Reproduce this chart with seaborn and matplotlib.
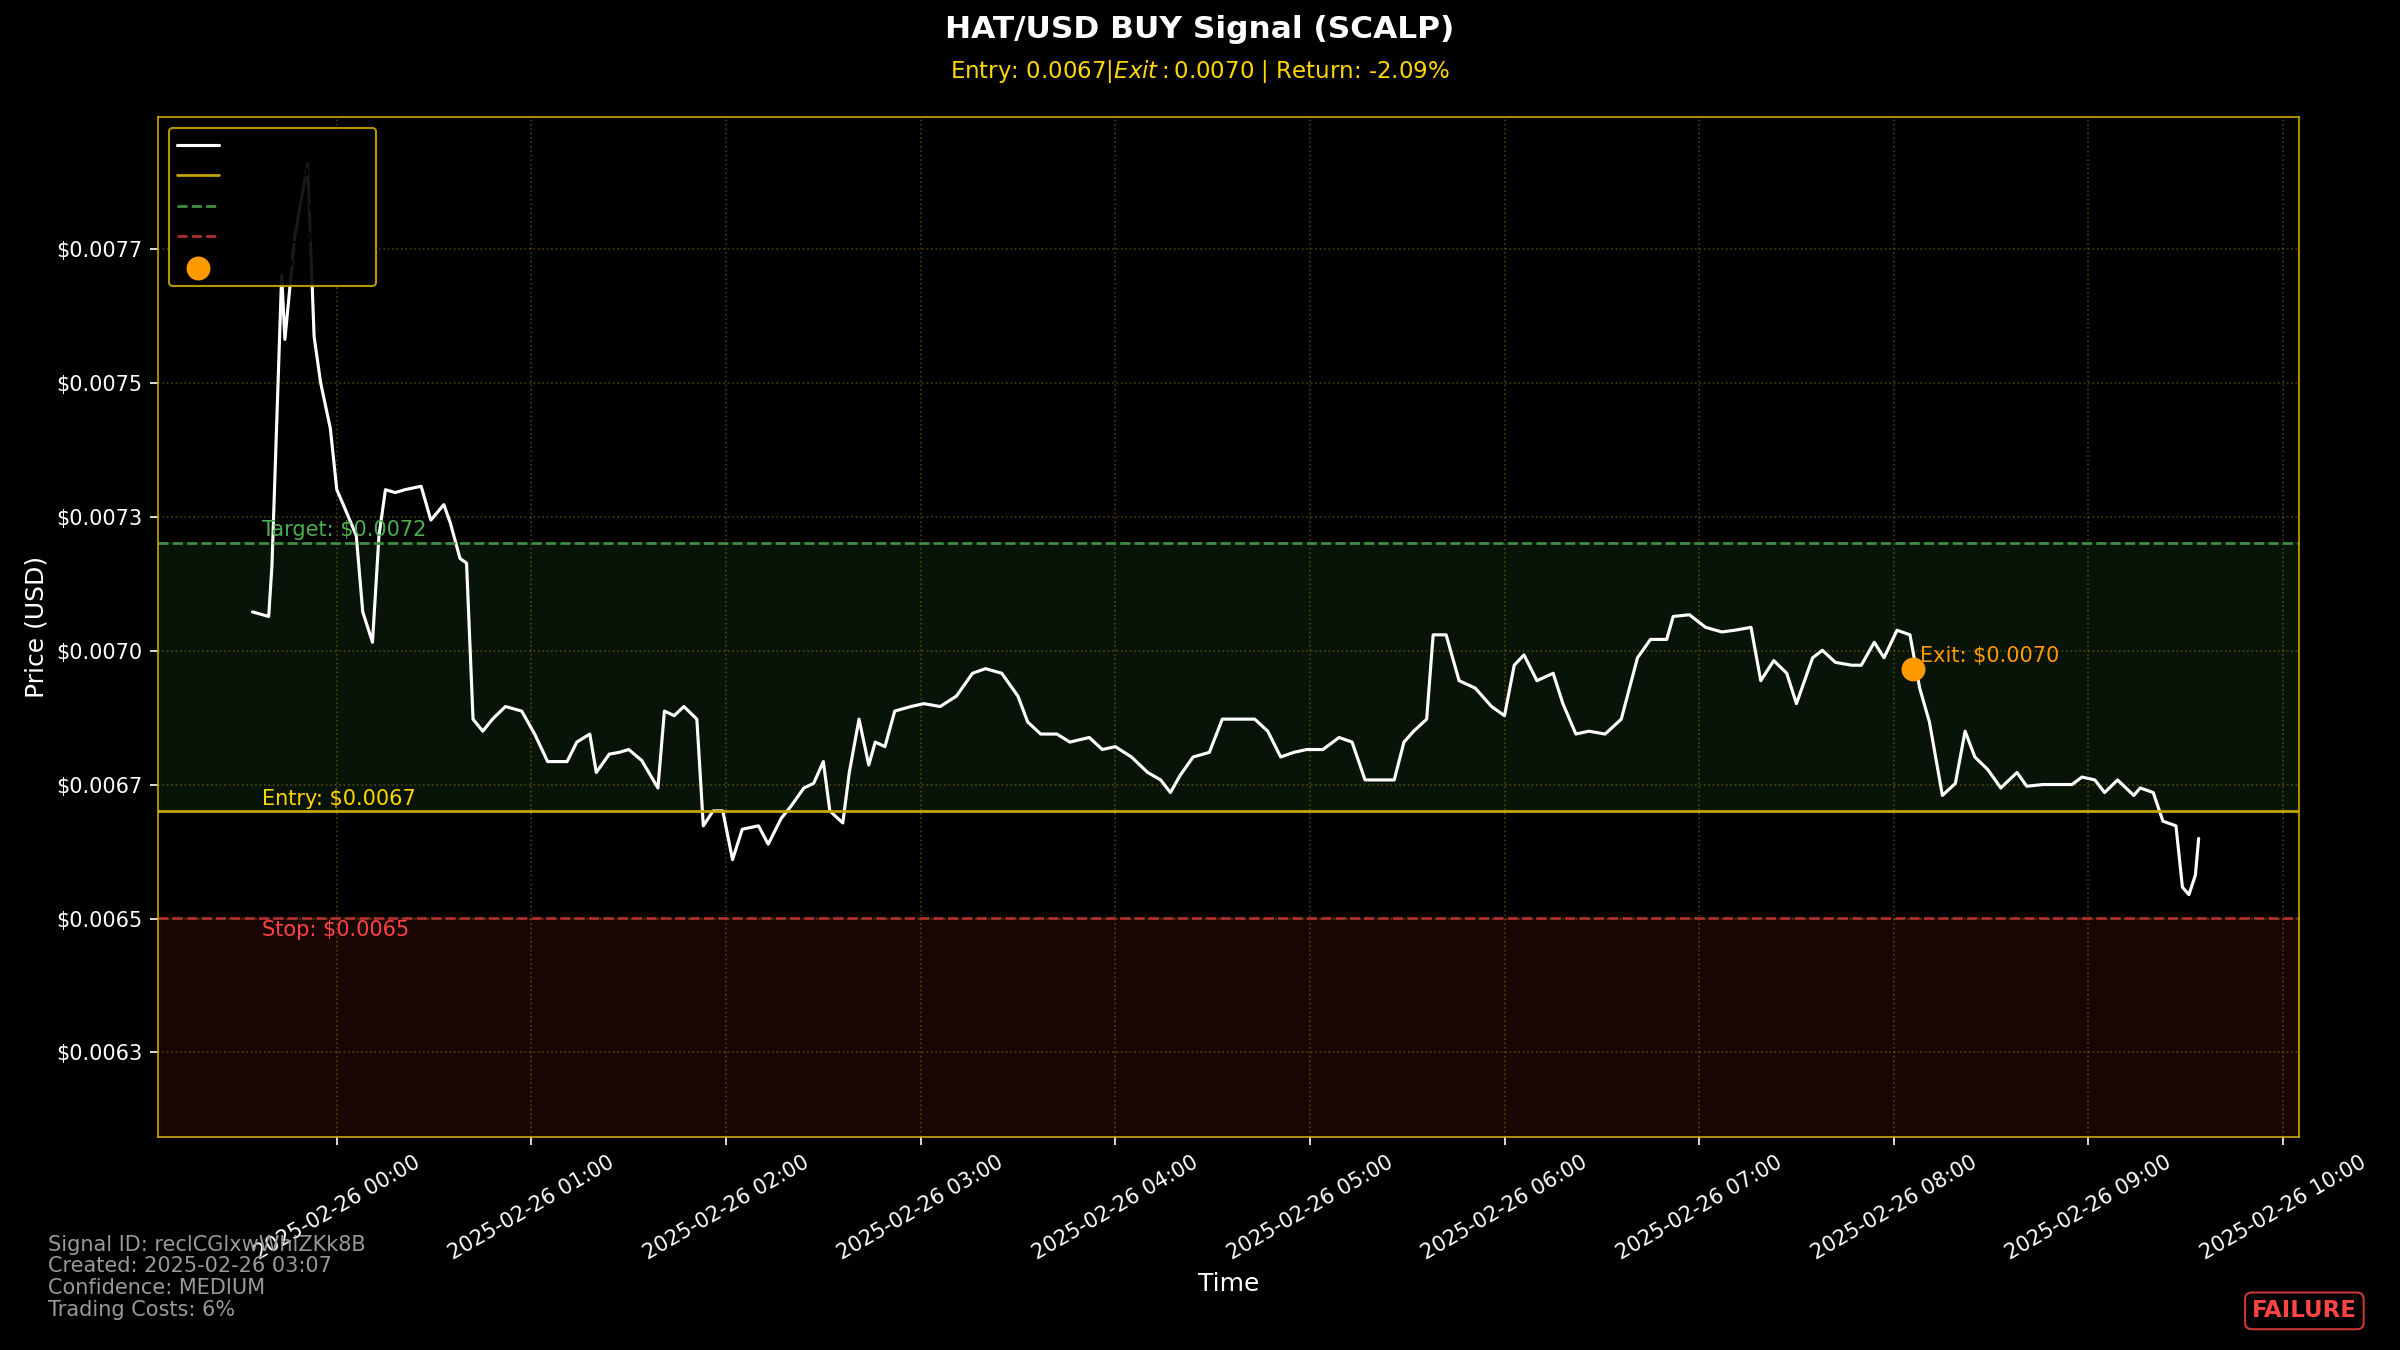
import matplotlib
matplotlib.use("Agg")
import matplotlib.pyplot as plt
import matplotlib.dates as mdates
import seaborn as sns
import pandas as pd
import numpy as np

# minutes from 2025-02-26 00:00
minutes = [-26, -21, -20, -17, -16, -13, -9, -7, -5, -2, 0, 2, 6, 8, 11, 13, 15, 18, 21, 26,
           29, 33, 35, 38, 40, 42, 45, 48, 52, 57, 61, 65, 71, 74, 78, 80, 84, 87, 90, 94,
           99, 101, 104, 107, 111, 113, 116, 119, 122, 125, 130, 133, 137, 140, 144, 147, 150, 152, 156, 158,
           161, 164, 166, 169, 172, 177, 181, 186, 191, 196, 200, 205, 210, 213, 217, 222, 226, 232, 236, 240,
           245, 250, 254, 257, 260, 264, 269, 273, 278, 283, 287, 291, 295, 299, 304, 309, 313, 317, 320, 326,
           329, 332, 336, 338, 342, 346, 351, 356, 360, 363, 366, 370, 375, 378, 382, 386, 391, 396, 401, 405,
           410, 412, 417, 422, 427, 431, 436, 439, 443, 447, 450, 455, 458, 462, 467, 470, 474, 477, 481, 485,
           488, 491, 495, 499, 502, 505, 509, 513, 518, 521, 526, 530, 535, 538, 542, 545, 549, 554, 556, 560,
           563, 567, 569, 571, 573, 574]
prices = [0.007068, 0.007060, 0.007148, 0.007655, 0.007543, 0.007721, 0.007849, 0.007548, 0.007468, 0.007388,
          0.007281, 0.007255, 0.007201, 0.007068, 0.007015, 0.007201, 0.007281, 0.007276, 0.007281, 0.007287,
          0.007228, 0.007255, 0.007223, 0.007161, 0.007153, 0.006881, 0.006860, 0.006881, 0.006903, 0.006895,
          0.006855, 0.006807, 0.006807, 0.006841, 0.006855, 0.006788, 0.006820, 0.006823, 0.006828, 0.006809,
          0.006761, 0.006895, 0.006887, 0.006903, 0.006881, 0.006695, 0.006721, 0.006721, 0.006636, 0.006689,
          0.006695, 0.006663, 0.006708, 0.006729, 0.006761, 0.006769, 0.006807, 0.006721, 0.006700, 0.006788,
          0.006881, 0.006801, 0.006841, 0.006833, 0.006895, 0.006903, 0.006908, 0.006903, 0.006921, 0.006961,
          0.006969, 0.006961, 0.006921, 0.006876, 0.006855, 0.006855, 0.006841, 0.006849, 0.006828, 0.006833,
          0.006815, 0.006788, 0.006775, 0.006753, 0.006783, 0.006815, 0.006823, 0.006881, 0.006881, 0.006881,
          0.006860, 0.006815, 0.006823, 0.006828, 0.006828, 0.006849, 0.006841, 0.006775, 0.006775, 0.006775,
          0.006841, 0.006860, 0.006881, 0.007028, 0.007028, 0.006948, 0.006935, 0.006903, 0.006887, 0.006975,
          0.006993, 0.006948, 0.006961, 0.006908, 0.006855, 0.006860, 0.006855, 0.006881, 0.006988, 0.007020,
          0.007020, 0.007060, 0.007063, 0.007041, 0.007033, 0.007036, 0.007041, 0.006948, 0.006983, 0.006961,
          0.006908, 0.006988, 0.007001, 0.006980, 0.006975, 0.006975, 0.007015, 0.006988, 0.007036, 0.007028,
          0.006935, 0.006876, 0.006748, 0.006769, 0.006860, 0.006815, 0.006793, 0.006761, 0.006788, 0.006764,
          0.006767, 0.006767, 0.006767, 0.006780, 0.006775, 0.006753, 0.006775, 0.006748, 0.006761, 0.006753,
          0.006703, 0.006695, 0.006588, 0.006575, 0.006609, 0.006673]

entry_price = 0.00672
target_price = 0.007188
stop_price = 0.006535
exit_minute = 486
exit_price = 0.006969

ytick_labels = ["$0.0063", "$0.0065", "$0.0067", "$0.0070", "$0.0073", "$0.0075", "$0.0077"]

base = pd.Timestamp("2025-02-26 00:00")
df = pd.DataFrame({"time": [base + pd.Timedelta(minutes=m) for m in minutes], "price": prices})
exit_time = base + pd.Timedelta(minutes=exit_minute)

sns.set_style("dark")
plt.rcParams["font.family"] = ["DejaVu Sans"]
gold = "#C9A800"

fig = plt.figure(figsize=(16, 9), dpi=150, facecolor="black")
ax = fig.add_axes([0.066, 0.158, 0.892, 0.755])
ax.set_facecolor("black")

ylo, yhi = 0.006153, 0.00793
ax.axhspan(entry_price, target_price, color="#1b3a1b", alpha=0.35, zorder=0)
ax.axhspan(ylo, stop_price, color="#3a0d0d", alpha=0.45, zorder=0)

sns.lineplot(data=df, x="time", y="price", ax=ax, color="white", linewidth=1.5, label="Price History")
ax.axhline(entry_price, color=gold, linewidth=1.3, label="Entry Price")
ax.axhline(target_price, color="#3f8f3f", linestyle="--", linewidth=1.3, label="Take Profit")
ax.axhline(stop_price, color="#b03030", linestyle="--", linewidth=1.3, label="Stop Loss")
ax.scatter([exit_time], [exit_price], color="#FF9900", s=110, zorder=5, label="Exit Point")

x0 = base + pd.Timedelta(minutes=-23)
ax.text(x0, target_price + 0.000005, "Target: $0.0072", color="#4CAF50", fontsize=10, va="bottom")
ax.text(x0, entry_price + 0.000005, "Entry: $0.0067", color="#FFD700", fontsize=10, va="bottom")
ax.text(x0, stop_price - 0.000005, "Stop: $0.0065", color="#FF4444", fontsize=10, va="top")
ax.text(exit_time + pd.Timedelta(minutes=2), exit_price + 0.000005, "Exit: $0.0070",
        color="#FF9900", fontsize=10, va="bottom")

ax.set_ylim(ylo, yhi)
ax.set_xlim(base + pd.Timedelta(minutes=-55), base + pd.Timedelta(minutes=605))
ax.set_yticks(np.linspace(0.0063, 0.0077, len(ytick_labels)))
ax.set_yticklabels(ytick_labels)
ax.xaxis.set_major_locator(mdates.HourLocator())
ax.xaxis.set_major_formatter(mdates.DateFormatter("%Y-%m-%d %H:%M"))
plt.setp(ax.get_xticklabels(), rotation=30)
ax.tick_params(colors="white", labelsize=10, length=4, bottom=True, left=True)
ax.grid(True, color=gold, linestyle=":", alpha=0.35)
for s in ax.spines.values():
    s.set_color(gold)
ax.set_xlabel("Time", color="white", fontsize=12)
ax.set_ylabel("Price (USD)", color="white", fontsize=12)

leg = ax.legend(loc="upper left", facecolor="black", edgecolor=gold, labelcolor="black", fontsize=10)
leg.get_frame().set_alpha(0.9)

fig.text(0.5, 0.978, "HAT/USD BUY Signal (SCALP)", color="white", fontsize=15,
         fontweight="bold", ha="center", va="center")
fig.text(0.5, 0.947, "Entry: 0.0067|$Exit: $0.0070 | Return: -2.09%", color="#FFD700",
         fontsize=11, ha="center", va="center")
fig.text(0.02, 0.054, "Signal ID: reclCGlxwWhiZKk8B\nCreated: 2025-02-26 03:07\nConfidence: MEDIUM\nTrading Costs: 6%",
         color="#999999", fontsize=10, ha="left", va="center", linespacing=1.1)
fig.text(0.982, 0.029, "FAILURE", color="#FF4444", fontsize=11, fontweight="bold", ha="right", va="center",
         bbox=dict(boxstyle="round,pad=0.3", facecolor="black", edgecolor="#FF4444", alpha=0.8))

fig.savefig("out.png", dpi=150, facecolor="black")
